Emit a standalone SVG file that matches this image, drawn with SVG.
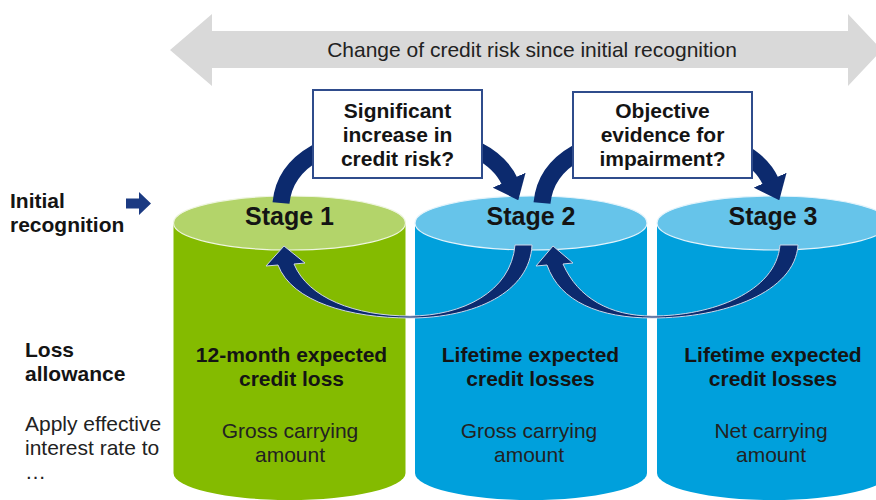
<svg xmlns="http://www.w3.org/2000/svg" width="876" height="500" viewBox="0 0 876 500">
  <style>
    .bold { font-family: "Liberation Sans", Arial, sans-serif; font-weight: bold; fill: #141414; font-size: 21px; }
    .reg { font-family: "Liberation Sans", Arial, sans-serif; fill: #222222; font-size: 21px; }
    .stage { font-size: 25px; }
    .box { fill: #ffffff; stroke: #2f4c8c; stroke-width: 2; }
    .green-body { fill: #84bb00; }
    .green-top { fill: #b3d46a; stroke: #eef5df; stroke-width: 1.2; }
    .blue-body { fill: #00a0dc; }
    .blue-top { fill: #66c4ea; stroke: #e3f3fb; stroke-width: 1.2; }
    .arc { fill: none; stroke: #0c2a6e; stroke-width: 17; }
    .curl { fill: #0c2a6e; stroke: #cdd6e8; stroke-width: 1; }
  </style>
  <defs>
    <marker id="ah" markerUnits="userSpaceOnUse" markerWidth="22" markerHeight="36" viewBox="0 0 22 36" refX="2" refY="18" orient="auto">
      <path d="M0,0 L22,18 L0,36 Z" fill="#0c2a6e"/>
    </marker>
  </defs>
  <rect width="876" height="500" fill="#ffffff"/>

  <g id="top-arrow">
    <polygon points="170,50 212,14 212,31 848,31 848,14 882,50 848,86 848,68 212,68 212,86" fill="#d9d9d9"/>
    <text class="reg" x="532" y="57" text-anchor="middle" fill="#333333">Change of credit risk since initial recognition</text>
  </g>

  <g id="left-labels">
    <text class="bold" x="10" y="208">Initial</text>
    <text class="bold" x="10" y="232">recognition</text>
    <polygon points="126,198.5 139,198.5 139,192 151,203.5 139,215 139,208.5 126,208.5" fill="#1b3a82"/>
    <text class="bold" x="25" y="357">Loss</text>
    <text class="bold" x="25" y="381">allowance</text>
    <text class="reg" x="25" y="431">Apply effective</text>
    <text class="reg" x="25" y="455">interest rate to</text>
    <text class="reg" x="25" y="479">…</text>
  </g>

  <g id="stage1">
    <path class="green-body" d="M173.5,223 V473 A116,27 0 0 0 405.5,473 V223 Z"/>
    <ellipse class="green-top" cx="289.5" cy="223" rx="116" ry="27"/>
    <text class="bold stage" x="289.5" y="225" text-anchor="middle">Stage 1</text>
    <text class="bold" x="291.5" y="362" text-anchor="middle">12-month expected</text>
    <text class="bold" x="291.5" y="386" text-anchor="middle">credit loss</text>
    <text class="reg" x="290" y="438" text-anchor="middle">Gross carrying</text>
    <text class="reg" x="290" y="462" text-anchor="middle">amount</text>
  </g>

  <g id="stage2">
    <path class="blue-body" d="M415,223 V473 A116,27 0 0 0 647,473 V223 Z"/>
    <ellipse class="blue-top" cx="531" cy="223" rx="116" ry="27"/>
    <text class="bold stage" x="531" y="225" text-anchor="middle">Stage 2</text>
    <text class="bold" x="530.5" y="362" text-anchor="middle">Lifetime expected</text>
    <text class="bold" x="530.5" y="386" text-anchor="middle">credit losses</text>
    <text class="reg" x="529" y="438" text-anchor="middle">Gross carrying</text>
    <text class="reg" x="529" y="462" text-anchor="middle">amount</text>
  </g>

  <g id="stage3">
    <path class="blue-body" d="M657,223 V473 A116,27 0 0 0 889,473 V223 Z"/>
    <ellipse class="blue-top" cx="773" cy="223" rx="116" ry="27"/>
    <text class="bold stage" x="773" y="225" text-anchor="middle">Stage 3</text>
    <text class="bold" x="773" y="362" text-anchor="middle">Lifetime expected</text>
    <text class="bold" x="773" y="386" text-anchor="middle">credit losses</text>
    <text class="reg" x="771" y="438" text-anchor="middle">Net carrying</text>
    <text class="reg" x="771" y="462" text-anchor="middle">amount</text>
  </g>

  <g id="connectors">
    <path class="arc" d="M281,203 C285,160 330,135 400,135 C470,135 500,160 510,182" marker-end="url(#ah)"/>
    <path class="arc" d="M542,203 C546,160 591,135 661,135 C731,135 761,160 771,182" marker-end="url(#ah)"/>
    <path class="curl" d="M532,245 C530,292 475,318 410,318 C350,318 292,302 278,265 L266,266 L284,246 L305,263 L294,264 C308,298 355,316 410,316 C462,316 511,292 515,245 Z"/>
    <path class="curl" d="M798,245 C795,292 725,318 652,318 C600,318 560,302 547,265 L536,266 L553,246 L573,263 L563,264 C578,298 610,316 652,316 C712,316 776,292 780,245 Z"/>
  </g>

  <g id="box-significant-increase">
    <rect class="box" x="313" y="90" width="169" height="88"/>
    <text class="bold" x="397.5" y="118" text-anchor="middle">Significant</text>
    <text class="bold" x="397.5" y="142" text-anchor="middle">increase in</text>
    <text class="bold" x="397.5" y="166" text-anchor="middle">credit risk?</text>
  </g>

  <g id="box-objective-evidence">
    <rect class="box" x="573" y="92" width="179" height="86"/>
    <text class="bold" x="662.5" y="118" text-anchor="middle">Objective</text>
    <text class="bold" x="662.5" y="142" text-anchor="middle">evidence for</text>
    <text class="bold" x="662.5" y="166" text-anchor="middle">impairment?</text>
  </g>
</svg>
